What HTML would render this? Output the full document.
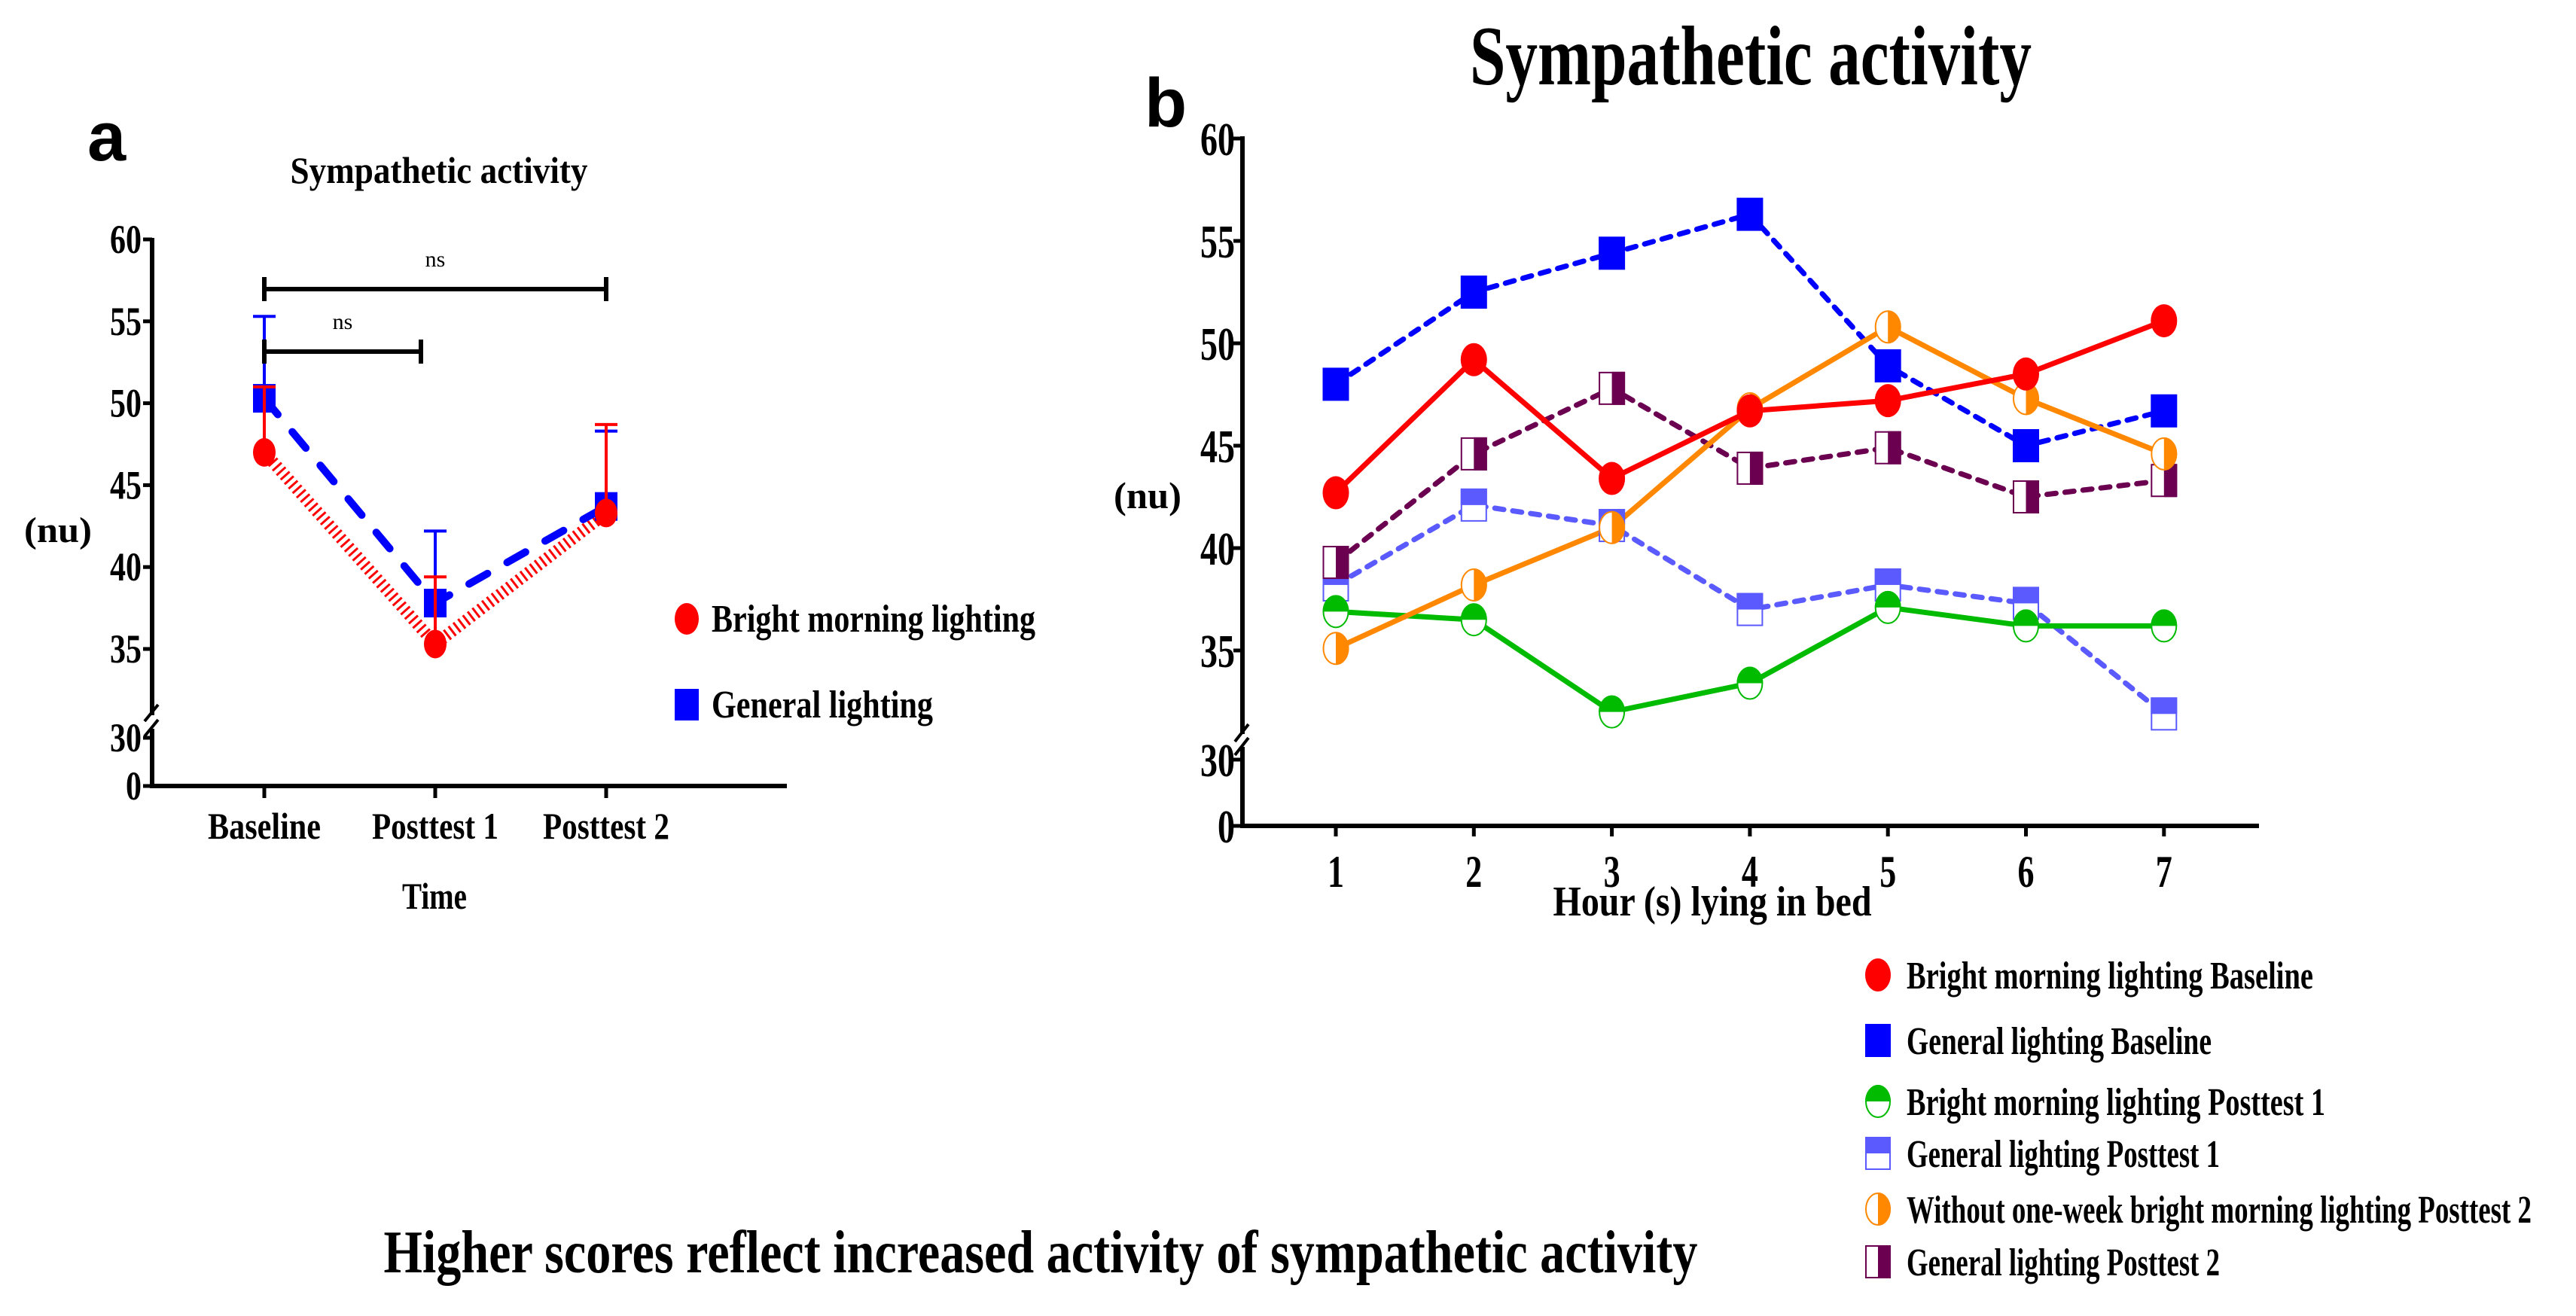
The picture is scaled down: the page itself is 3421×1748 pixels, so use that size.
<!DOCTYPE html>
<html><head><meta charset="utf-8"><title>Sympathetic activity</title>
<style>
html,body{margin:0;padding:0;background:#fff;}
svg{display:block;}
text{font-family:"Liberation Serif",serif;font-weight:bold;fill:#000;}
</style></head>
<body>
<svg id="fig" width="3421" height="1748" viewBox="0 0 3421 1748" xmlns="http://www.w3.org/2000/svg">
<text x="116" y="213" style="font-family:'Liberation Sans',sans-serif;font-size:92px">a</text>
<text x="583" y="243" text-anchor="middle" font-size="50" textLength="395" lengthAdjust="spacingAndGlyphs">Sympathetic activity</text>
<text x="1520" y="168" style="font-family:'Liberation Sans',sans-serif;font-size:92px">b</text>
<text x="2325" y="112" text-anchor="middle" font-size="112" textLength="746" lengthAdjust="spacingAndGlyphs">Sympathetic activity</text>
<text x="1382" y="1690" text-anchor="middle" font-size="80" textLength="1745" lengthAdjust="spacingAndGlyphs">Higher scores reflect increased activity of sympathetic activity</text>
<g id="pa"></g>
<g id="pb"></g>
</svg>
<script>
// ---- Panel a data ----
var aCategories = ["Baseline", "Posttest 1", "Posttest 2"];
var aBright = [47.0, 35.3, 43.3];
var aBrightErr = [51.0, 39.4, 48.7];
var aGeneral = [50.3, 37.8, 43.7];
var aGeneralErr = [55.3, 42.2, 48.3];
var aTicks = [35, 40, 45, 50, 55, 60];
// ---- Panel b data ----
var bHours = ["1", "2", "3", "4", "5", "6", "7"];
var bBrightBase = [42.7, 49.2, 43.4, 46.7, 47.2, 48.5, 51.1];
var bGeneralBase = [48.0, 52.5, 54.4, 56.3, 48.9, 45.0, 46.7];
var bBrightP1 = [36.9, 36.5, 32.0, 33.4, 37.1, 36.2, 36.2];
var bGeneralP1 = [38.2, 42.1, 41.1, 37.0, 38.2, 37.3, 31.9];
var bWithoutP2 = [35.1, 38.2, 41.0, 46.8, 50.8, 47.3, 44.6];
var bGeneralP2 = [39.3, 44.6, 47.8, 43.9, 44.9, 42.5, 43.3];
var bTicks = [35, 40, 45, 50, 55, 60];

var NS = "http://www.w3.org/2000/svg";
function el(tag, parent, attrs) {
  var e = document.createElementNS(NS, tag);
  for (var k in attrs) e.setAttribute(k, attrs[k]);
  parent.appendChild(e);
  return e;
}
function txt(parent, x, y, s, size, anchor, len) {
  var t = el("text", parent, {x: x, y: y, "font-size": size, "text-anchor": anchor || "start"});
  if (len) { t.setAttribute("textLength", len); t.setAttribute("lengthAdjust", "spacingAndGlyphs"); }
  t.textContent = s;
  return t;
}
function pts(xs, ys) { return xs.map(function (x, i) { return x + "," + ys[i]; }).join(" "); }

function marker(parent, kind, color, x, y, w, h) {
  var g = el("g", parent, {});
  var hw = w / 2, hh = h / 2;
  if (kind === "circle") {
    el("ellipse", g, {cx: x, cy: y, rx: hw, ry: hh, fill: color});
  } else if (kind === "square") {
    el("rect", g, {x: x - hw, y: y - hh, width: w, height: h, fill: color});
  } else if (kind === "circleTop") {
    el("ellipse", g, {cx: x, cy: y, rx: hw - 1, ry: hh - 1, fill: "#fff", stroke: color, "stroke-width": 2});
    el("path", g, {d: "M" + (x - hw) + "," + y + " A" + hw + "," + hh + " 0 0 1 " + (x + hw) + "," + y + " Z", fill: color});
  } else if (kind === "circleRight") {
    el("ellipse", g, {cx: x, cy: y, rx: hw - 1, ry: hh - 1, fill: "#fff", stroke: color, "stroke-width": 2});
    el("path", g, {d: "M" + x + "," + (y - hh) + " A" + hw + "," + hh + " 0 0 1 " + x + "," + (y + hh) + " Z", fill: color});
  } else if (kind === "squareTop") {
    el("rect", g, {x: x - hw + 1, y: y - hh + 1, width: w - 2, height: h - 2, fill: "#fff", stroke: color, "stroke-width": 2});
    el("rect", g, {x: x - hw, y: y - hh, width: w, height: hh, fill: color});
  } else if (kind === "squareRight") {
    el("rect", g, {x: x - hw + 1, y: y - hh + 1, width: w - 2, height: h - 2, fill: "#fff", stroke: color, "stroke-width": 2});
    el("rect", g, {x: x, y: y - hh, width: hw, height: h, fill: color});
  }
  return g;
}

// ================= Panel a =================
(function () {
  var g = document.getElementById("pa");
  var X0 = 202, XEND = 1045, Y0 = 1044;
  function xa(i) { return 351 + i * 227; }
  function ya(v) { return 862 - (v - 35) * 21.76; }
  var ax = el("path", g, {d: "M" + X0 + "," + 316 + " L" + X0 + "," + 950 + " M" + X0 + "," + 968 + " L" + X0 + "," + Y0 + " L" + XEND + "," + Y0, stroke: "#000", "stroke-width": 6, fill: "none"});
  
  
  el("path", g, {d: "M" + (X0 - 10) + ",958 L" + (X0 + 8) + ",936 M" + (X0 - 10) + ",978 L" + (X0 + 8) + ",956", stroke: "#000", "stroke-width": 4, fill: "none"});
  aTicks.forEach(function (v) {
    var y = ya(v);
    el("line", g, {x1: X0 - 12, y1: y, x2: X0, y2: y, stroke: "#000", "stroke-width": 5});
    var t = txt(g, X0 - 14, y + 18, String(v), 54, "end", 42);
    
    
  });
  [[30, 980], [0, 1044]].forEach(function (p) {
    el("line", g, {x1: X0 - 12, y1: p[1], x2: X0, y2: p[1], stroke: "#000", "stroke-width": 5});
    var t = txt(g, X0 - 14, p[1] + 18, String(p[0]), 54, "end", p[0] ? 42 : 21);
    
    
  });
  var yl = txt(g, 77, 720, "(nu)", 48, "middle", 90);
  
  
  aCategories.forEach(function (c, i) {
    el("line", g, {x1: xa(i), y1: Y0, x2: xa(i), y2: Y0 + 16, stroke: "#000", "stroke-width": 5});
    var t = txt(g, xa(i), 1114, c, 50, "middle", i === 0 ? 150 : 168);
    
    
  });
  var xt = txt(g, 577, 1207, "Time", 50, "middle", 86);
  
  
  function bracket(x1, x2, y, name) {
    var b = el("g", g, {});
    
    
    el("path", b, {d: "M" + x1 + "," + y + " L" + x2 + "," + y + " M" + x1 + "," + (y - 16) + " L" + x1 + "," + (y + 16) + " M" + x2 + "," + (y - 16) + " L" + x2 + "," + (y + 16), stroke: "#000", "stroke-width": 6});
    var t = txt(b, (x1 + x2) / 2, y - 30, "ns", 30, "middle");
    t.style.fontWeight = "normal";
  }
  var ys = aBright.map(ya), ysG = aGeneral.map(ya), xs = aCategories.map(function (c, i) { return xa(i); });
  var rl = el("polyline", g, {points: pts(xs, ys), fill: "none", stroke: "#f00", "stroke-width": 16, "stroke-dasharray": "3 5"});
  
  
  var bl = el("polyline", g, {points: pts(xs, ysG), fill: "none", stroke: "#00f", "stroke-width": 10, "stroke-dasharray": "28 30", "stroke-linecap": "round"});
  
  
  aGeneral.forEach(function (v, i) {
    var e = el("path", g, {d: "M" + xa(i) + "," + ya(v) + " L" + xa(i) + "," + ya(aGeneralErr[i]) + " M" + (xa(i) - 15) + "," + ya(aGeneralErr[i]) + " L" + (xa(i) + 15) + "," + ya(aGeneralErr[i]), stroke: "#00f", "stroke-width": 4});
    
    
  });
  aGeneral.forEach(function (v, i) {
    var m = marker(g, "square", "#00f", xa(i), ya(v), 30, 38);
    
    
  });
  aBright.forEach(function (v, i) {
    var e = el("path", g, {d: "M" + xa(i) + "," + ya(v) + " L" + xa(i) + "," + ya(aBrightErr[i]) + " M" + (xa(i) - 15) + "," + ya(aBrightErr[i]) + " L" + (xa(i) + 15) + "," + ya(aBrightErr[i]), stroke: "#f00", "stroke-width": 4});
    
    
  });
  aBright.forEach(function (v, i) {
    var m = marker(g, "circle", "#f00", xa(i), ya(v), 30, 38);
    
    
  });
  bracket(xa(0), xa(2), 384, "ns-bracket-baseline-posttest2");
  bracket(xa(0), 559, 467, "ns-bracket-baseline-posttest1");
  var l1 = el("g", g, {});
  
  
  marker(l1, "circle", "#f00", 912, 822, 32, 42);
  txt(l1, 945, 839, "Bright morning lighting", 52, "start", 430);
  var l2 = el("g", g, {});
  
  
  marker(l2, "square", "#00f", 912, 936, 32, 42);
  txt(l2, 945, 953, "General lighting", 52, "start", 294);
})();

// ================= Panel b =================
(function () {
  var g = document.getElementById("pb");
  var X0 = 1650, XEND = 3000, Y0 = 1097;
  function xb(i) { return 1774 + i * 183.3; }
  function yb(v) { return 864 - (v - 35) * 27.2; }
  var ax = el("path", g, {d: "M" + X0 + ",181 L" + X0 + ",975 M" + X0 + ",992 L" + X0 + "," + Y0 + " L" + XEND + "," + Y0, stroke: "#000", "stroke-width": 6, fill: "none"});
  
  
  el("path", g, {d: "M" + (X0 - 10) + ",985 L" + (X0 + 8) + ",962 M" + (X0 - 10) + ",1003 L" + (X0 + 8) + ",980", stroke: "#000", "stroke-width": 4, fill: "none"});
  bTicks.forEach(function (v) {
    var y = yb(v);
    el("line", g, {x1: X0 - 12, y1: y, x2: X0, y2: y, stroke: "#000", "stroke-width": 5});
    var t = txt(g, X0 - 10, y + 22, String(v), 62, "end", 46);
    
    
  });
  [[30, 1009], [0, 1097]].forEach(function (p) {
    el("line", g, {x1: X0 - 12, y1: p[1], x2: X0, y2: p[1], stroke: "#000", "stroke-width": 5});
    var t = txt(g, X0 - 10, p[1] + 22, String(p[0]), 62, "end", p[0] ? 46 : 23);
    
    
  });
  var yl = txt(g, 1524, 675, "(nu)", 50, "middle", 90);
  
  
  bHours.forEach(function (h, i) {
    el("line", g, {x1: xb(i), y1: Y0, x2: xb(i), y2: Y0 + 14, stroke: "#000", "stroke-width": 5});
    var t = txt(g, xb(i), 1178, h, 60, "middle", 22);
    
    
  });
  var xt = txt(g, 2274, 1216, "Hour (s) lying in bed", 56, "middle", 423);
  
  

  var series = [
    {vals: bGeneralP1, color: "#5a5aff", kind: "squareTop", dash: "12 12", name: "general-posttest1"},
    {vals: bGeneralP2, color: "#6b0050", kind: "squareRight", dash: "12 12", name: "general-posttest2"},
    {vals: bGeneralBase, color: "#0000ff", kind: "square", dash: "12 12", name: "general-baseline"},
    {vals: bBrightP1, color: "#00bb00", kind: "circleTop", dash: null, name: "bright-posttest1"},
    {vals: bWithoutP2, color: "#ff8800", kind: "circleRight", dash: null, name: "without-bright-posttest2"},
    {vals: bBrightBase, color: "#ff0000", kind: "circle", dash: null, name: "bright-baseline"}
  ];
  series.forEach(function (s) {
    var xs = s.vals.map(function (v, i) { return xb(i); });
    var ys = s.vals.map(yb);
    var line = el("polyline", g, {points: pts(xs, ys), fill: "none", stroke: s.color, "stroke-width": 7});
    if (s.dash) { line.setAttribute("stroke-dasharray", s.dash); line.setAttribute("stroke-linecap", "round"); }
    
    
  });
  series.forEach(function (s) {
    s.vals.forEach(function (v, i) {
      var m = marker(g, s.kind, s.color, xb(i), yb(v), 35, 44);
      
      
    });
  });
  var legend = [
    {kind: "circle", color: "#ff0000", label: "Bright morning lighting Baseline", y: 1295, len: 540, name: "legend-entry-bright-baseline"},
    {kind: "square", color: "#0000ff", label: "General lighting Baseline", y: 1382, len: 405, name: "legend-entry-general-baseline"},
    {kind: "circleTop", color: "#00bb00", label: "Bright morning lighting Posttest 1", y: 1463, len: 556, name: "legend-entry-bright-posttest1"},
    {kind: "squareTop", color: "#5a5aff", label: "General lighting Posttest 1", y: 1532, len: 416, name: "legend-entry-general-posttest1"},
    {kind: "circleRight", color: "#ff8800", label: "Without one-week bright morning lighting Posttest 2", y: 1606, len: 830, name: "legend-entry-without-posttest2"},
    {kind: "squareRight", color: "#6b0050", label: "General lighting Posttest 2", y: 1676, len: 416, name: "legend-entry-general-posttest2"}
  ];
  legend.forEach(function (L) {
    var lg = el("g", g, {});
    
    
    marker(lg, L.kind, L.color, 2494, L.y, 34, 44);
    txt(lg, 2532, L.y + 18, L.label, 52, "start", L.len);
  });
})();
</script>
</body></html>
